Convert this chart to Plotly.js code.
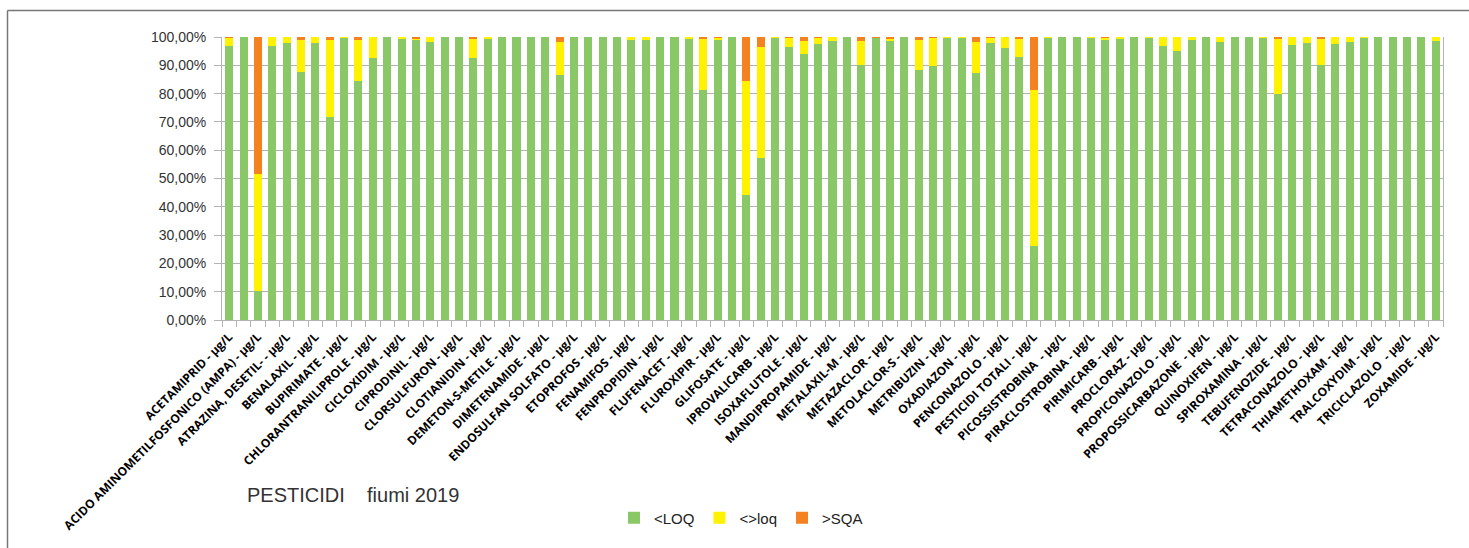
<!DOCTYPE html>
<html>
<head>
<meta charset="utf-8">
<script src="https://cdn.plot.ly/plotly-3.0.1.min.js"></script>
<style>
  html, body { margin: 0; padding: 0; background: #ffffff; }
  #chart { width: 1469px; height: 548px; }
</style>
</head>
<body>
<div id="chart"></div>
<script>
// Tick labels (shown on every other bar, as in the reference)
const tickLabels = [
  "ACETAMIPRID - µg/L",
  "ACIDO AMINOMETILFOSFONICO (AMPA) - µg/L",
  "ATRAZINA, DESETIL- - µg/L",
  "BENALAXIL - µg/L",
  "BUPIRIMATE - µg/L",
  "CHLORANTRANILIPROLE - µg/L",
  "CICLOXIDIM - µg/L",
  "CIPRODINIL - µg/L",
  "CLORSULFURON - µg/L",
  "CLOTIANIDIN - µg/L",
  "DEMETON-S-METILE - µg/L",
  "DIMETENAMIDE - µg/L",
  "ENDOSULFAN SOLFATO - µg/L",
  "ETOPROFOS - µg/L",
  "FENAMIFOS - µg/L",
  "FENPROPIDIN - µg/L",
  "FLUFENACET - µg/L",
  "FLUROXIPIR - µg/L",
  "GLIFOSATE - µg/L",
  "IPROVALICARB - µg/L",
  "ISOXAFLUTOLE - µg/L",
  "MANDIPROPAMIDE - µg/L",
  "METALAXIL-M - µg/L",
  "METAZACLOR - µg/L",
  "METOLACLOR-S - µg/L",
  "METRIBUZIN - µg/L",
  "OXADIAZON - µg/L",
  "PENCONAZOLO - µg/L",
  "PESTICIDI TOTALI - µg/L",
  "PICOSSISTROBINA \u00A0- µg/L",
  "PIRACLOSTROBINA - µg/L",
  "PIRIMICARB - µg/L",
  "PROCLORAZ - µg/L",
  "PROPICONAZOLO - µg/L",
  "PROPOSSICARBAZONE \u00A0- µg/L",
  "QUINOXIFEN - µg/L",
  "SPIROXAMINA - µg/L",
  "TEBUFENOZIDE - µg/L",
  "TETRACONAZOLO - µg/L",
  "THIAMETHOXAM - µg/L",
  "TRALCOXYDIM - µg/L",
  "TRICICLAZOLO \u00A0- µg/L",
  "ZOXAMIDE - µg/L"
];

// Series values (percent of samples), one entry per bar (85 bars)
const belowLOQ = [
  96.9, 100, 10.4, 96.9, 98.0, 87.7, 98.0, 71.7, 99.6, 84.4,
  92.6, 100, 99.3, 98.9, 98.2, 100, 100, 92.6, 99.3, 100,
  100, 100, 100, 86.5, 100, 100, 100, 100, 98.9, 98.9,
  100, 100, 99.3, 81.2, 98.9, 100, 44.0, 57.1, 99.6, 96.5,
  94.0, 97.5, 98.6, 100, 90.1, 99.6, 98.6, 100, 88.3, 89.7,
  99.6, 99.6, 87.2, 97.9, 96.1, 92.9, 26.0, 99.6, 100, 100,
  99.6, 98.9, 99.3, 100, 99.6, 96.8, 95.0, 98.9, 100, 98.2,
  100, 100, 99.6, 79.8, 97.2, 97.9, 90.1, 97.5, 98.2, 99.6,
  100, 100, 100, 100, 98.6
];
const betweenLoq = [
  2.8, 0, 41.1, 3.1, 2.0, 11.2, 2.0, 27.2, 0.4, 14.5,
  7.4, 0, 0.7, 0.5, 1.8, 0, 0, 6.7, 0.7, 0,
  0, 0, 0, 11.7, 0, 0, 0, 0, 1.1, 1.1,
  0, 0, 0.7, 18.1, 0.6, 0, 40.4, 39.4, 0.4, 3.3,
  4.6, 2.3, 1.4, 0, 8.5, 0, 0.7, 0, 10.6, 10.1,
  0.4, 0.4, 11.0, 1.9, 3.9, 6.4, 55.2, 0.4, 0, 0,
  0.4, 0.7, 0.7, 0, 0.4, 3.2, 5.0, 1.1, 0, 1.8,
  0, 0, 0.4, 19.5, 2.8, 2.1, 9.2, 2.5, 1.8, 0.4,
  0, 0, 0, 0, 1.4
];
const aboveSQA = [
  0.3, 0, 48.5, 0, 0, 1.1, 0, 1.1, 0, 1.1,
  0, 0, 0, 0.6, 0, 0, 0, 0.7, 0, 0,
  0, 0, 0, 1.8, 0, 0, 0, 0, 0, 0,
  0, 0, 0, 0.7, 0.5, 0, 15.6, 3.5, 0, 0.2,
  1.4, 0.2, 0, 0, 1.4, 0.4, 0.7, 0, 1.1, 0.2,
  0, 0, 1.8, 0.2, 0, 0.7, 18.8, 0, 0, 0,
  0, 0.4, 0, 0, 0, 0, 0, 0, 0, 0,
  0, 0, 0, 0.7, 0, 0, 0.7, 0, 0, 0,
  0, 0, 0, 0, 0
];
const seriesNames = ["<LOQ", "<>loq", ">SQA"];
const seriesColors = ["#8AC766", "#FFF200", "#F58220"];
const chartTitle = "PESTICIDI\u00A0\u00A0\u00A0\u00A0fiumi 2019";

const n = belowLOQ.length;
const xPos = belowLOQ.map((_, i) => i + 1);
const labelPos = tickLabels.map((_, k) => 2 * k + 1);
const boundaries = Array.from({length: n + 1}, (_, i) => i + 0.5);

const traces = [belowLOQ, betweenLoq, aboveSQA].map((vals, s) => ({
  type: "bar",
  x: xPos,
  y: vals.map(v => v / 100),
  name: seriesNames[s],
  marker: { color: seriesColors[s], line: { width: 0 } },
  hoverinfo: "y+name"
}));

const L = 222, R = 1443, T = 37, B = 320, W = 1469, H = 548;
const px = v => (v - L) / (R - L);
const py = v => (B - v) / (B - T);

const layout = {
  width: W, height: H,
  margin: { l: L, r: W - R, t: T, b: H - B, pad: 0 },
  paper_bgcolor: "#ffffff",
  plot_bgcolor: "#ffffff",
  barmode: "stack",
  bargap: 0.44,
  separators: ",.",
  showlegend: true,
  font: { family: "Liberation Sans, Arial, sans-serif", color: "#333333" },
  xaxis: {
    type: "linear",
    range: [0.5, n + 0.5],
    tickmode: "array",
    tickvals: labelPos,
    ticktext: tickLabels,
    tickangle: -45,
    ticks: "",
    showgrid: false,
    zeroline: false,
    showline: true,
    linecolor: "#b3b3b3",
    linewidth: 1,
    ticklabelstandoff: 4,
    tickfont: { family: "Open Sans, sans-serif", size: 12, weight: 700, color: "#000000" },
    minor: { tickmode: "array", tickvals: boundaries, ticks: "outside", ticklen: 6, tickcolor: "#b3b3b3", tickwidth: 1, showgrid: false }
  },
  yaxis: {
    range: [0, 1],
    tickmode: "linear",
    tick0: 0,
    dtick: 0.1,
    tickformat: ".2%",
    ticks: "outside",
    ticklen: 7,
    tickcolor: "#b3b3b3",
    showgrid: true,
    gridcolor: "#b3b3b3",
    gridwidth: 1,
    zeroline: false,
    showline: true,
    linecolor: "#b3b3b3",
    mirror: true,
    ticklabelstandoff: 5,
    tickfont: { family: "Liberation Sans, Arial, sans-serif", size: 14, color: "#333333" }
  },
  legend: {
    orientation: "h",
    xref: "container", yref: "container",
    x: 741 / W, xanchor: "center",
    y: 1 - 518 / H, yanchor: "middle",
    itemwidth: 30,
    font: { family: "Liberation Sans, Arial, sans-serif", size: 15, color: "#222222" },
    traceorder: "normal"
  },
  annotations: [{
    text: chartTitle,
    xref: "paper", yref: "paper",
    x: px(245), y: py(495),
    xanchor: "left", yanchor: "middle",
    showarrow: false,
    font: { family: "Liberation Sans, Arial, sans-serif", size: 20, color: "#333333" }
  }],
  shapes: [
    { type: "line", xref: "paper", yref: "paper", x0: px(7.5), x1: px(1475), y0: py(10.5), y1: py(10.5), line: { color: "#777777", width: 1.5 } },
    { type: "line", xref: "paper", yref: "paper", x0: px(7.5), x1: px(7.5), y0: py(10.5), y1: py(560), line: { color: "#777777", width: 1.5 } }
  ]
};

Plotly.newPlot("chart", traces, layout, { displayModeBar: false, staticPlot: true });
</script>
</body>
</html>
